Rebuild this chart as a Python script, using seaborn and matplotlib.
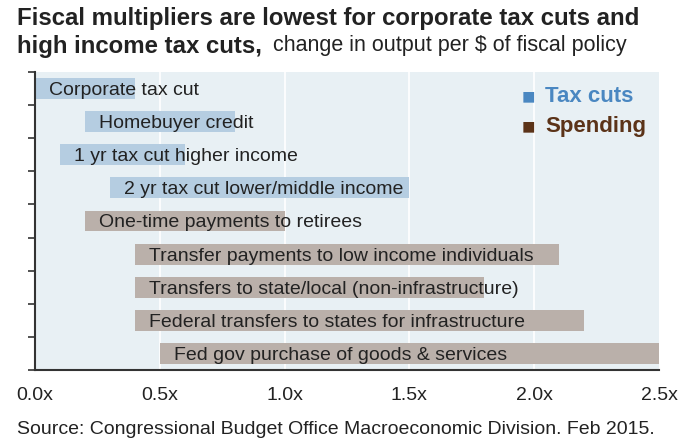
import matplotlib
matplotlib.use("Agg")
import matplotlib.pyplot as plt
import seaborn as sns
import pandas as pd

categories = [
    "Corporate tax cut",
    "Homebuyer credit",
    "1 yr tax cut higher income",
    "2 yr tax cut lower/middle income",
    "One-time payments to retirees",
    "Transfer payments to low income individuals",
    "Transfers to state/local (non-infrastructure)",
    "Federal transfers to states for infrastructure",
    "Fed gov purchase of goods & services",
]
low = [0.0, 0.2, 0.1, 0.3, 0.2, 0.4, 0.4, 0.4, 0.5]
high = [0.4, 0.8, 0.6, 1.5, 1.0, 2.1, 1.8, 2.2, 2.5]
groups = ["Tax cuts"] * 4 + ["Spending"] * 5
xticks = [0.0, 0.5, 1.0, 1.5, 2.0, 2.5]
xticklabels = ["0.0x", "0.5x", "1.0x", "1.5x", "2.0x", "2.5x"]

bar_colors = {"Tax cuts": "#b5cde1", "Spending": "#bab0aa"}
legend_colors = {"Tax cuts": "#4a87c1", "Spending": "#5b3318"}

df = pd.DataFrame({"category": categories, "low": low, "high": high, "group": groups})
df["width"] = df["high"] - df["low"]

sns.set_theme(style="white")
plt.rcParams["font.family"] = ["Liberation Sans", "DejaVu Sans"]

fig = plt.figure(figsize=(6.87, 4.41), dpi=100)
ax = fig.add_axes([35 / 687, 71 / 441, 624 / 687, 298 / 441])
ax.set_facecolor("#e8f0f4")

sns.barplot(data=df, x="width", y="category", hue="group", palette=bar_colors,
            dodge=False, legend=False, width=0.63, ax=ax, saturation=1,
            order=categories, hue_order=["Tax cuts", "Spending"])

for p in ax.patches:
    idx = int(round(p.get_y() + p.get_height() / 2))
    p.set_x(df["low"][idx])
    p.set_linewidth(0)

for i, row in df.iterrows():
    ax.text(row["low"] + 0.058, i, row["category"], va="center_baseline", ha="left",
            fontsize=14, color="#222222")

ax.set_xlim(0, 2.5)
ax.set_ylim(8.5, -0.5)
ax.set_xticks(xticks)
ax.set_xticklabels(xticklabels, fontsize=14, color="#222222")
ax.set_yticks([i - 0.5 for i in range(10)])
ax.set_yticklabels([])
ax.set_xlabel("")
ax.set_ylabel("")
for x in [0.5, 1.0, 1.5, 2.0]:
    ax.axvline(x, color="white", lw=1.2, zorder=0.5)
ax.set_axisbelow(True)

for s in ["top", "right"]:
    ax.spines[s].set_visible(False)
for s in ["left", "bottom"]:
    ax.spines[s].set_color("#333333")
    ax.spines[s].set_linewidth(1.5)
ax.tick_params(axis="x", direction="out", length=6, width=1.2, color="#333333", pad=6)
ax.tick_params(axis="y", direction="out", length=5, width=1.2, color="#333333", left=True)

ax.text(0.78, 0.912, "\u25a0", transform=ax.transAxes, fontsize=16, color=legend_colors["Tax cuts"],
        va="center", ha="left")
ax.text(0.818, 0.917, "Tax cuts", transform=ax.transAxes, fontsize=16, fontweight="bold",
        color=legend_colors["Tax cuts"], va="center", ha="left")
ax.text(0.78, 0.812, "\u25a0", transform=ax.transAxes, fontsize=16, color=legend_colors["Spending"],
        va="center", ha="left")
ax.text(0.818, 0.817, "Spending", transform=ax.transAxes, fontsize=16, fontweight="bold",
        color=legend_colors["Spending"], va="center", ha="left")

fig.text(17 / 687, 1 - 18 / 441, "Fiscal multipliers are lowest for corporate tax cuts and",
         fontsize=17.3, fontweight="bold", color="#222222", va="center", ha="left")
fig.text(17 / 687, 1 - 46 / 441, "high income tax cuts,", fontsize=17.3, fontweight="bold",
         color="#222222", va="center", ha="left")
fig.text(273 / 687, 1 - 46 / 441, "change in output per $ of fiscal policy", fontsize=15.5,
         color="#222222", va="center", ha="left")

fig.text(17 / 687, 1 - 430 / 441, "Source: Congressional Budget Office Macroeconomic Division. Feb 2015.",
         fontsize=14, color="#222222", va="center", ha="left")

fig.savefig("out.png", dpi=100)
